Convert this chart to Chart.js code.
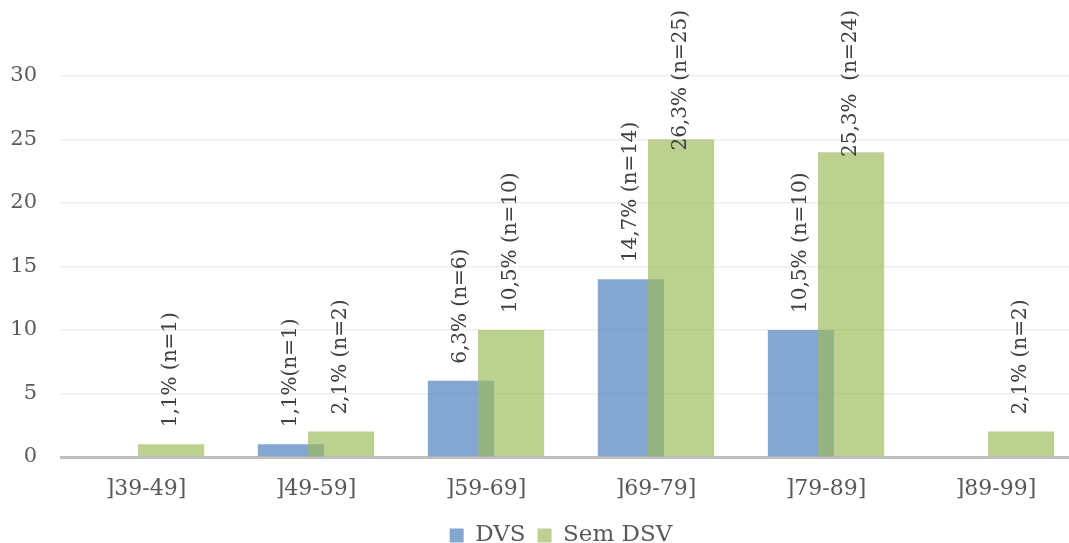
<!DOCTYPE html>
<html>
<head>
<meta charset="utf-8">
<script src="https://cdn.jsdelivr.net/npm/chart.js@4"></script>
<style>
  html, body { margin: 0; padding: 0; background: #ffffff; overflow: hidden; }
  #wrap { position: relative; width: 1069px; height: 543px; overflow: hidden; }
  canvas { position: absolute; left: 0; top: 0; }
</style>
</head>
<body>
<div id="wrap"><canvas id="chart" width="1122" height="558"></canvas></div>
<script>
// Age groups on the category axis
const categories = [']39-49]', ']49-59]', ']59-69]', ']69-79]', ']79-89]', ']89-99]'];

// Counts per group
const dvsValues = [null, 1, 6, 14, 10, null];
const semDsvValues = [1, 2, 10, 25, 24, 2];

// Percentage / count annotations written above each bar
const dvsLabels = [null, '1,1%(n=1)', '6,3% (n=6)', '14,7% (n=14)', '10,5% (n=10)', null];
const semDsvLabels = ['1,1% (n=1)', '2,1% (n=2)', '10,5% (n=10)', '26,3% (n=25)', '25,3%  (n=24)', '2,1% (n=2)'];

// Y axis ticks
const yTicks = [0, 5, 10, 15, 20, 25, 30];

const FONT = '"DejaVu Serif", "Liberation Serif", serif';

// Paint the DVS bars first so the Sem DSV bars overlap them
const drawOrder = {
  id: 'drawOrder',
  beforeDatasetsDraw(chart) {
    chart.getDatasetMeta(0).controller.draw();
  },
  beforeDatasetDraw(chart, args) {
    if (args.index === 0) return false;
  }
};

// Rotated value annotations above the bars
const barNotes = {
  id: 'barNotes',
  afterDatasetsDraw(chart) {
    const ctx = chart.ctx;
    const sets = [dvsLabels, semDsvLabels];
    ctx.save();
    ctx.font = '20px ' + FONT;
    ctx.fillStyle = '#404040';
    ctx.textAlign = 'left';
    ctx.textBaseline = 'middle';
    sets.forEach((labels, di) => {
      const meta = chart.getDatasetMeta(di);
      meta.data.forEach((bar, i) => {
        const text = labels[i];
        if (!text) return;
        const w = ctx.measureText(text).width;
        let start = bar.y - 17;
        if (start - w < 10) start = 10 + w;
        ctx.save();
        ctx.translate(bar.x, start);
        ctx.rotate(-Math.PI / 2);
        ctx.fillText(text, 0, 0);
        ctx.restore();
      });
    });
    ctx.restore();
  }
};

new Chart(document.getElementById('chart'), {
  type: 'bar',
  data: {
    labels: categories,
    datasets: [
      {
        label: 'DVS',
        data: dvsValues,
        backgroundColor: 'rgba(79,129,189,0.7)',
        borderWidth: 0,
        categoryPercentage: 0.59,
        barPercentage: 1.32
      },
      {
        label: 'Sem DSV',
        data: semDsvValues,
        backgroundColor: 'rgba(155,187,89,0.67)',
        borderWidth: 0,
        categoryPercentage: 0.59,
        barPercentage: 1.32
      }
    ]
  },
  options: {
    responsive: false,
    animation: false,
    layout: { padding: { top: 76, left: 0, right: 0, bottom: 1 } },
    plugins: {
      legend: {
        position: 'bottom',
        labels: {
          font: { family: FONT, size: 23 },
          color: '#595959',
          boxWidth: 14,
          boxHeight: 14,
          padding: 12
        }
      },
      tooltip: { enabled: false }
    },
    scales: {
      x: {
        afterFit(scale) { scale.height = 55; },
        grid: { display: false, drawTicks: false },
        border: { display: true, color: '#bfbfbf', width: 3 },
        ticks: {
          font: { family: FONT, size: 22 },
          color: '#595959',
          padding: 19
        }
      },
      y: {
        min: 0,
        max: 30,
        afterFit(scale) { scale.width = 61; },
        afterBuildTicks(scale) { scale.ticks = yTicks.map(v => ({ value: v })); },
        grid: {
          drawTicks: false,
          lineWidth: 1.5,
          color: c => (c.tick && c.tick.value === 0) ? 'rgba(0,0,0,0)' : '#ededed'
        },
        border: { display: false },
        ticks: {
          font: { family: FONT, size: 21 },
          color: '#595959',
          padding: 24
        }
      },
      // empty right-hand gutter that balances the legend position
      gutter: {
        axis: 'y',
        position: 'right',
        afterFit(scale) { scale.width = 41; },
        grid: { display: false, drawTicks: false },
        border: { display: false },
        ticks: { display: false }
      }
    }
  },
  plugins: [drawOrder, barNotes]
});
</script>
</body>
</html>
